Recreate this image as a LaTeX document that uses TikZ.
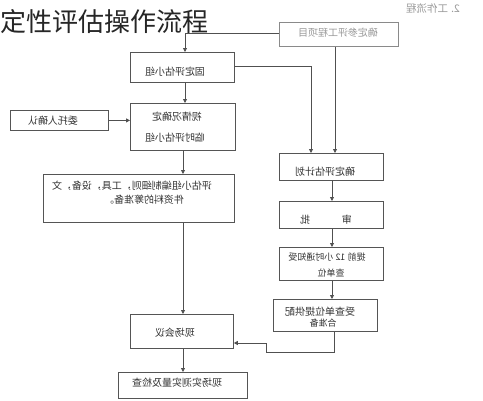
\documentclass[tikz,border=0pt]{standalone}
\usepackage{fontspec}
\usepackage{graphicx}
\newfontfamily\cjk{Noto Sans CJK SC}
\usetikzlibrary{arrows.meta}
\definecolor{boxgray}{HTML}{555555}
\definecolor{lightbox}{HTML}{8A8A8A}
\definecolor{linegray}{HTML}{505050}
\definecolor{txtgray}{HTML}{333333}
\definecolor{lighttxt}{HTML}{9A9A9A}
\newcommand{\mirtext}[1]{\reflectbox{#1}}
\begin{document}
\begin{tikzpicture}[x=1pt,y=-1pt,
  box/.style={draw=boxgray, line width=0.8pt, inner sep=0pt, anchor=north west},
  txt/.style={font=\cjk\fontsize{10}{12}\selectfont, text=txtgray, inner sep=0pt},
  smalltxt/.style={font=\cjk\fontsize{9}{11}\selectfont, text=txtgray, inner sep=0pt},
  arr/.style={draw=linegray, line width=0.8pt, -{Triangle[length=4pt,width=4pt]}},
  ln/.style={draw=linegray, line width=0.8pt}]
\useasboundingbox[fill=white] (0,0) rectangle (483,400);

% title and heading
\node[font=\cjk\fontsize{26}{30}\selectfont, text=black!85, inner sep=0pt, anchor=west] (title) at (0,22) {定性评估操作流程};
\node[font=\cjk\fontsize{10.5}{12}\selectfont, text=lighttxt, inner sep=0pt] (head) at (433,9) {\mirtext{2. 工作流程}};

% boxes
\node[box, draw=lightbox, minimum width=119pt, minimum height=24pt] (A) at (279,22) {};
\node[box, minimum width=104pt, minimum height=30pt] (B) at (130,52) {};
\node[box, minimum width=105pt, minimum height=47pt] (C) at (130,103) {};
\node[box, minimum width=98pt, minimum height=20pt] (D) at (10,110) {};
\node[box, minimum width=191pt, minimum height=48pt] (E) at (43,174) {};
\node[box, minimum width=104pt, minimum height=27pt] (F) at (279,153) {};
\node[box, minimum width=104pt, minimum height=27pt] (S) at (279,201) {};
\node[box, minimum width=104pt, minimum height=33pt] (H) at (279,247) {};
\node[box, minimum width=104pt, minimum height=32pt] (I) at (273,299) {};
\node[box, minimum width=103pt, minimum height=34pt] (G) at (130,314) {};
\node[box, minimum width=129pt, minimum height=26pt] (K) at (118,372) {};

% texts (mirrored as in the picture)
\node[txt, text=lighttxt] (At) at (338,33) {\mirtext{确定参评工程项目}};
\node[txt] (Bt) at (175,72) {\mirtext{固定评估小组}};
\node[txt] (Ct1) at (177,117) {\mirtext{视情况确定}};
\node[txt] (Ct2) at (175,138) {\mirtext{临时评估小组}};
\node[txt] (Dt) at (53,121) {\mirtext{委托人确认}};
\node[txt] (Et1) at (132,186) {\mirtext{评估小组编制细则，工具，设备，文}};
\node[txt] (Et2) at (144,200) {\mirtext{件资料的筹准备。}};
\node[txt] (Ft) at (325,172) {\mirtext{确定评估计划}};
\node[txt] (St) at (326,220) {\mirtext{审\hspace{32pt}批}};
\node[smalltxt] (Ht1) at (327,257) {\mirtext{提前 12 小时通知受}};
\node[smalltxt] (Ht2) at (331,273) {\mirtext{查单位}};
\node[txt] (It1) at (320,312) {\mirtext{受查单位提供配}};
\node[smalltxt] (It2) at (323,323) {\mirtext{合准备}};
\node[txt] (Gt) at (175,333) {\mirtext{现场会议}};
\node[txt] (Kt) at (177,383) {\mirtext{现场实测实量及检查}};

% connector turning points
\coordinate (a1) at (185,33);
\coordinate (b1) at (311,66);
\coordinate (i1) at (334,352);
\coordinate (i2) at (266,352);
\coordinate (i3) at (266,343);

% connectors
\draw[ln] (A.west |- a1) -- (a1);
\draw[arr] (a1) -- (a1 |- B.north);
\draw[arr] (A.south -| 335,0) -- (F.north -| 335,0);
\draw[ln] (B.east |- b1) -- (b1);
\draw[arr] (b1) -- (b1 |- F.north);
\draw[arr] (a1 |- B.south) -- (a1 |- C.north);
\draw[arr] (D.east) -- (D.east -| C.west);
\draw[arr] (183,150) coordinate (c1) -- (c1 |- E.north);
\draw[arr] (c1 |- E.south) -- (c1 |- G.north);
\draw[arr] (c1 |- G.south) -- (c1 |- K.north);
\draw[arr] (332,180) coordinate (f1) -- (f1 |- S.north);
\draw[arr] (f1 |- S.south) -- (f1 |- H.north);
\draw[arr] (f1 |- H.south) -- (f1 |- I.north);
\draw[ln] (i1 |- I.south) -- (i1) -- (i2) -- (i3);
\draw[arr] (i3) -- (i3 -| G.east);
\end{tikzpicture}
\end{document}
